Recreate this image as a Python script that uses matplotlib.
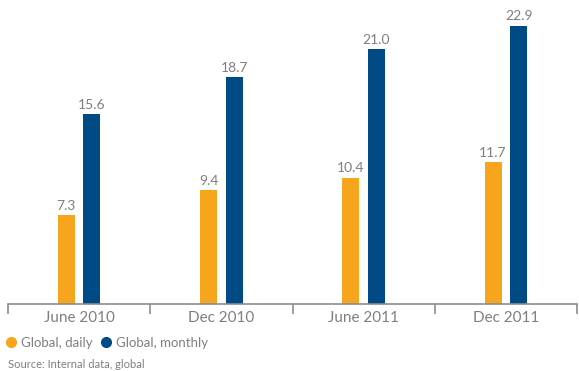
import numpy as np
import matplotlib.pyplot as plt
from matplotlib.lines import Line2D

periods = ["June 2010", "Dec 2010", "June 2011", "Dec 2011"]
daily = [7.3, 9.4, 10.4, 11.7]
monthly = [15.6, 18.7, 21.0, 22.9]

orange = "#F7A51C"
blue = "#004A86"
grey = "#7F7F7F"

plt.rcParams['font.family'] = ['Lato', 'DejaVu Sans']

fig = plt.figure(figsize=(5.79, 3.71), dpi=100)
ax = fig.add_axes([8/579, 67/371, 569/579, 304/371])

x = np.arange(len(periods)) + 0.5
w = 0.12
off = 0.09
b1 = ax.bar(x - off, daily, w, color=orange)
b2 = ax.bar(x + off, monthly, w, color=blue)
for bars, vals in [(b1, daily), (b2, monthly)]:
    for r, v in zip(bars, vals):
        ax.text(r.get_x() + r.get_width()/2, v + 0.25, "%.1f" % v,
                ha='center', va='bottom', fontsize=10, color=grey)

ax.set_xlim(0, len(periods))
ax.set_ylim(0, 25)
ax.set_yticks([])
for s in ['top', 'right', 'left']:
    ax.spines[s].set_visible(False)
ax.spines['bottom'].set_color('#8C8C8C')
ax.spines['bottom'].set_linewidth(1.2)

ax.set_xticks(np.arange(len(periods) + 1))
ax.set_xticklabels([])
ax.set_xticks(x, minor=True)
ax.set_xticklabels(periods, minor=True, fontsize=11, color=grey)
ax.tick_params(axis='x', which='major', direction='out', length=7, width=1.2, color='#8C8C8C')
ax.tick_params(axis='x', which='minor', length=0, pad=5)

handles = [Line2D([], [], marker='o', ls='none', color=orange, markersize=7),
           Line2D([], [], marker='o', ls='none', color=blue, markersize=7)]
leg = fig.legend(handles, ["Global, daily", "Global, monthly"], loc='center left',
                 bbox_to_anchor=(0.0, 1 - 343/371), ncol=2, frameon=False,
                 fontsize=9.5, handletextpad=0.3, columnspacing=0.5,
                 handlelength=1.0, borderaxespad=0, borderpad=0.3)
for t in leg.get_texts():
    t.set_color(grey)

fig.text(8/579, 1 - 365/371, "Source: Internal data, global", fontsize=8,
         color=grey, va='center', ha='left')

fig.savefig("out.png", dpi=100)
